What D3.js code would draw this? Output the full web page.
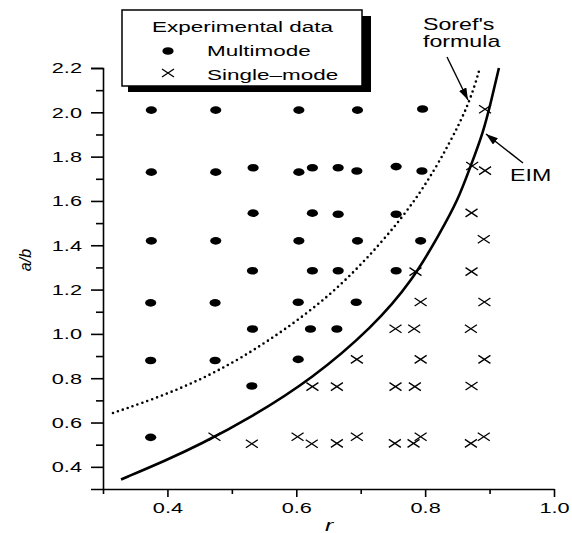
<!DOCTYPE html>
<html>
<head>
<meta charset="utf-8">
<script src="https://cdn.jsdelivr.net/npm/d3@7"></script>
<style>
  body { margin: 0; background: #fff; }
  svg { display: block; font-family: "Liberation Sans", Arial, sans-serif; }
  .axis path, .axis line { stroke: #000; stroke-width: 1.6; }
  .axis text { font-size: 15px; fill: #000; }
</style>
</head>
<body>
<div id="dataviz"></div>
<script>
//----------------
// Data
//----------------

// multimode points [r, a/b]
const multimode = [
  [0.375, 2.01], [0.475, 2.01], [0.604, 2.01], [0.695, 2.01], [0.796, 2.015],
  [0.375, 1.73], [0.475, 1.73], [0.533, 1.75], [0.604, 1.73], [0.625, 1.75],
  [0.665, 1.75], [0.694, 1.735], [0.755, 1.755], [0.795, 1.735],
  [0.533, 1.545], [0.625, 1.545], [0.665, 1.54], [0.755, 1.54],
  [0.375, 1.42], [0.475, 1.42], [0.604, 1.42], [0.695, 1.42], [0.793, 1.42],
  [0.532, 1.285], [0.625, 1.285], [0.665, 1.285], [0.755, 1.285],
  [0.374, 1.14], [0.474, 1.14], [0.603, 1.143], [0.693, 1.143],
  [0.532, 1.022], [0.622, 1.022], [0.663, 1.022],
  [0.374, 0.88], [0.474, 0.88], [0.603, 0.885],
  [0.531, 0.765],
  [0.374, 0.533]
];

// single-mode points [r, a/b]
const singlemode = [
  [0.893, 2.014],
  [0.873, 1.758], [0.893, 1.737],
  [0.872, 1.546],
  [0.891, 1.427],
  [0.785, 1.281], [0.872, 1.281],
  [0.793, 1.144], [0.892, 1.144],
  [0.754, 1.023], [0.783, 1.023], [0.871, 1.023],
  [0.694, 0.885], [0.793, 0.885], [0.892, 0.885],
  [0.625, 0.762], [0.663, 0.762], [0.754, 0.762], [0.784, 0.762], [0.872, 0.765],
  [0.473, 0.536], [0.531, 0.504], [0.602, 0.536], [0.624, 0.504], [0.663, 0.506],
  [0.694, 0.536], [0.753, 0.506], [0.782, 0.506], [0.793, 0.536], [0.871, 0.506],
  [0.891, 0.536]
];

// EIM cutoff curve
const eimCurve = [
  [0.328, 0.343], [0.399, 0.431], [0.4495, 0.499], [0.531, 0.625], [0.624, 0.796],
  [0.719, 1.031], [0.781, 1.243], [0.823, 1.455], [0.851, 1.604], [0.870, 1.753],
  [0.890, 1.907], [0.903, 2.057], [0.9145, 2.2]
];

// Soref's formula
const sorefCurve = [
  [0.3155, 0.643], [0.399, 0.7265], [0.477, 0.828], [0.5545, 0.961], [0.652, 1.1665],
  [0.730, 1.401], [0.792, 1.627], [0.8385, 1.8615], [0.8695, 2.0465], [0.885, 2.2]
];

const xTicks = [0.3, 0.4, 0.5, 0.6, 0.7, 0.8, 0.9, 1.0];
const xLabels = [0.4, 0.6, 0.8, 1.0];
const yTicks = [0.4, 0.6, 0.8, 1.0, 1.2, 1.4, 1.6, 1.8, 2.0, 2.2];
const yMinor = [0.5, 0.7, 0.9, 1.1, 1.3, 1.5, 1.7, 1.9, 2.1];

//----------------
// Costants
//----------------

const width = 572, height = 533;
const SX = 1.45; // the scan is stretched sideways, so is the lettering

//----------------
// Utility functions
//----------------

function wideText(g, txt, x, y, size, anchor) {
  return g.append("text")
    .attr("transform", "translate(" + x + "," + y + ") scale(" + SX + ",1)")
    .attr("text-anchor", anchor || "start")
    .style("font-size", size + "px")
    .text(txt);
}

function cross(g, cx, cy, w, h) {
  g.append("path")
    .attr("d", "M" + (cx - w) + "," + (cy - h) + "L" + (cx + w) + "," + (cy + h) +
               "M" + (cx - w) + "," + (cy + h) + "L" + (cx + w) + "," + (cy - h))
    .attr("stroke", "#000")
    .attr("stroke-width", 1.3)
    .attr("fill", "none");
}

function isIn(list, d) {
  return list.some(function(v) { return Math.abs(v - d) < 1e-6; });
}

//----------------
// Main
//----------------

function main() {
  var svg = d3.select("#dataviz").append("svg")
    .attr("width", width)
    .attr("height", height);

  var x = d3.scaleLinear().domain([0.3, 1.0]).range([103, 554]);
  var y = d3.scaleLinear().domain([0.3, 2.2]).range([489, 68]);

  svg.append("defs").append("marker")
    .attr("id", "head")
    .attr("viewBox", "0 0 12 8")
    .attr("refX", 12).attr("refY", 4)
    .attr("markerWidth", 12).attr("markerHeight", 8)
    .attr("markerUnits", "userSpaceOnUse")
    .attr("orient", "auto")
    .append("path").attr("d", "M0,0L12,4L0,8Z").attr("fill", "#000");

  // X axis
  var xAxis = svg.append("g")
    .attr("class", "axis")
    .attr("transform", "translate(0," + y.range()[0] + ")")
    .call(d3.axisBottom(x).tickValues(xTicks).tickSizeOuter(0).tickPadding(5)
      .tickFormat(function(d) { return isIn(xLabels, d) ? d3.format(".1f")(d) : ""; }));
  xAxis.selectAll(".tick line")
    .attr("y2", function(d) { return Math.round(d * 10) % 2 == 0 ? 8 : 5; });
  xAxis.selectAll(".tick text")
    .attr("y", 13)
    .attr("transform", "scale(" + SX + ",1)");

  // Y axis
  var yAxis = svg.append("g")
    .attr("class", "axis")
    .attr("transform", "translate(" + x.range()[0] + ",0)")
    .call(d3.axisLeft(y).tickValues(yTicks.concat(yMinor)).tickSizeOuter(0).tickSize(12).tickPadding(9)
      .tickFormat(function(d) { return isIn(yTicks, d) ? d3.format(".1f")(d) : ""; }));
  yAxis.selectAll(".tick line")
    .attr("x2", function(d) { return isIn(yMinor, d) ? -7 : -12; });
  yAxis.selectAll(".tick text").each(function() {
    var t = d3.select(this);
    var tx = +t.attr("x");
    t.attr("x", 0).attr("transform", "translate(" + tx + ",0) scale(" + SX + ",1)");
  });

  // axis titles
  svg.append("text")
    .attr("transform", "translate(31,260) rotate(-90)")
    .attr("text-anchor", "middle")
    .style("font-size", "16px").style("font-style", "italic")
    .text("a/b");
  wideText(svg, "r", 329, 531, 17, "middle").style("font-style", "italic");

  // curves
  var line = d3.line()
    .x(function(d) { return x(d[0]); })
    .y(function(d) { return y(d[1]); })
    .curve(d3.curveBasis);

  svg.append("path")
    .datum(sorefCurve)
    .attr("d", line)
    .attr("fill", "none")
    .attr("stroke", "#000")
    .attr("stroke-width", 2.6)
    .attr("stroke-linecap", "round")
    .attr("stroke-dasharray", "0,5.2");

  svg.append("path")
    .datum(eimCurve)
    .attr("d", line)
    .attr("fill", "none")
    .attr("stroke", "#000")
    .attr("stroke-width", 2.6);

  // markers
  svg.append("g").selectAll("ellipse")
    .data(multimode)
    .enter().append("ellipse")
      .attr("cx", function(d) { return x(d[0]); })
      .attr("cy", function(d) { return y(d[1]); })
      .attr("rx", 5.6)
      .attr("ry", 3.8)
      .attr("fill", "#000");

  var crosses = svg.append("g");
  singlemode.forEach(function(d) { cross(crosses, x(d[0]), y(d[1]), 6, 4); });

  // legend
  var legend = svg.append("g");
  legend.append("rect")
    .attr("x", 128).attr("y", 16).attr("width", 243).attr("height", 76)
    .attr("fill", "#000");
  legend.append("rect")
    .attr("x", 122).attr("y", 10).attr("width", 240).attr("height", 76)
    .attr("fill", "#fff").attr("stroke", "#000").attr("stroke-width", 1.5);
  wideText(legend, "Experimental data", 152, 32, 15.5);
  legend.append("ellipse").attr("cx", 168).attr("cy", 51).attr("rx", 5.6).attr("ry", 3.8);
  wideText(legend, "Multimode", 207, 56, 15.5);
  cross(legend, 168, 73, 6, 4);
  wideText(legend, "Single\u2013mode", 207, 80, 15.5);

  // annotations
  var notes = svg.append("g");
  wideText(notes, "Soref's", 423, 30, 16);
  wideText(notes, "formula", 423, 47, 16);
  notes.append("line")
    .attr("x1", 447).attr("y1", 57).attr("x2", 468).attr("y2", 100)
    .attr("stroke", "#000").attr("stroke-width", 1.4)
    .attr("marker-end", "url(#head)");
  wideText(notes, "EIM", 510, 181, 16);
  notes.append("line")
    .attr("x1", 523).attr("y1", 163).attr("x2", 486).attr("y2", 134)
    .attr("stroke", "#000").attr("stroke-width", 1.4)
    .attr("marker-end", "url(#head)");
}

main();
</script>
</body>
</html>
